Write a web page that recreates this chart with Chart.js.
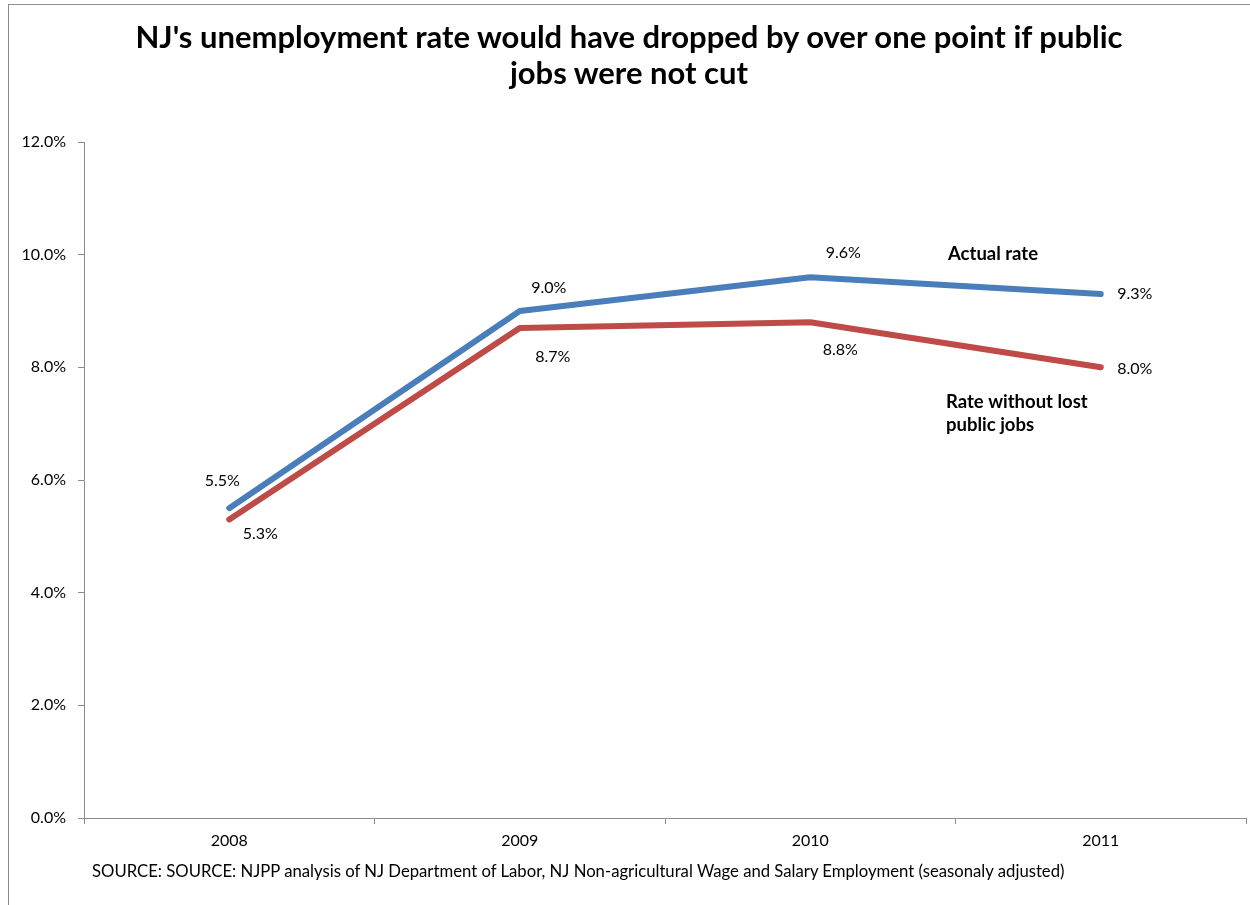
<!DOCTYPE html>
<html>
<head>
<meta charset="utf-8">
<script src="https://cdn.jsdelivr.net/npm/chart.js@4/dist/chart.umd.min.js"></script>
<style>
  html, body { margin: 0; padding: 0; background: #fff; overflow: hidden; }
  #wrap { position: relative; width: 1250px; height: 905px; }
  #frame { position: absolute; left: 8px; top: 4px; width: 1400px; height: 1000px; border: 1px solid #8c8c8c; box-sizing: border-box; }
  #title { position: absolute; left: 0; top: 18px; width: 1258px; text-align: center; font: bold 31px Lato, sans-serif; line-height: 36px; color: #000; }
  #source { position: absolute; left: 92px; top: 861px; font: 16.7px Lato, sans-serif; color: #000; white-space: nowrap; }
  canvas { position: absolute; left: 0; top: 0; }
</style>
</head>
<body>
<div id="wrap">
  <div id="frame"></div>
  <canvas id="c" width="1250" height="905"></canvas>
  <div id="title">NJ's unemployment rate would have dropped by over one point if public<br>jobs were not cut</div>
  <div id="source">SOURCE: SOURCE: NJPP analysis of NJ Department of Labor, NJ Non-agricultural Wage and Salary Employment (seasonaly adjusted)</div>
</div>
<script>
const years = ["2008", "2009", "2010", "2011"];
const actualRate = [5.5, 9.0, 9.6, 9.3];
const rateWithoutLostJobs = [5.3, 8.7, 8.8, 8.0];
const yTicks = [0, 2, 4, 6, 8, 10, 12];

// where each value label sits next to its point (px)
const labelOffsets = [
  [[-7, -27], [29, -23], [33, -24], [34, 0]],
  [[31, 14], [33, 29], [30, 28], [34, 2]]
];

const q = id => document.getElementById(id);
const font = "Lato, sans-serif";

const valueLabels = {
  id: "valueLabels",
  afterDatasetsDraw(chart) {
    const ctx = chart.ctx;
    ctx.save();
    ctx.font = "16px " + font;
    ctx.fillStyle = "#000";
    ctx.textAlign = "center";
    ctx.textBaseline = "middle";
    chart.data.datasets.forEach((ds, di) => {
      chart.getDatasetMeta(di).data.forEach((pt, i) => {
        const o = labelOffsets[di][i];
        ctx.fillText(ds.data[i].toFixed(1) + "%", pt.x + o[0], pt.y + o[1]);
      });
    });
    // series names
    ctx.font = "bold 18.5px " + font;
    ctx.textAlign = "left";
    ctx.fillText("Actual rate", 948, 254);
    ctx.fillText("Rate without lost", 946, 402);
    ctx.fillText("public jobs", 946, 425);
    ctx.restore();
  }
};

new Chart(q("c"), {
  type: "line",
  data: {
    labels: years,
    datasets: [
      { label: "Actual rate", data: actualRate, borderColor: "#4a7ebb", borderWidth: 6, borderCapStyle: "round", borderJoinStyle: "round", pointRadius: 0, tension: 0 },
      { label: "Rate without lost public jobs", data: rateWithoutLostJobs, borderColor: "#be4b48", borderWidth: 6, borderCapStyle: "round", borderJoinStyle: "round", pointRadius: 0, tension: 0 }
    ]
  },
  options: {
    responsive: false,
    animation: false,
    layout: { padding: { left: 0, right: 4, top: 142, bottom: 0 } },
    plugins: { legend: { display: false }, title: { display: false }, tooltip: { enabled: false } },
    scales: {
      x: {
        offset: true,
        grid: { offset: true, drawOnChartArea: false, tickLength: 6, color: "#8c8c8c" },
        border: { color: "#8c8c8c", width: 1 },
        ticks: { color: "#000", font: { family: font, size: 16 }, padding: 7 },
        afterFit: s => { s.height = 87; }
      },
      y: {
        min: 0, max: 12,
        afterBuildTicks: s => { s.ticks = yTicks.map(v => ({ value: v })); },
        grid: { drawOnChartArea: false, tickLength: 6, color: "#8c8c8c" },
        border: { color: "#8c8c8c", width: 1 },
        ticks: { color: "#000", font: { family: font, size: 16 }, padding: 12, callback: v => v.toFixed(1) + "%" },
        afterFit: s => { s.width = 84; }
      }
    }
  },
  plugins: [valueLabels]
});
</script>
</body>
</html>
